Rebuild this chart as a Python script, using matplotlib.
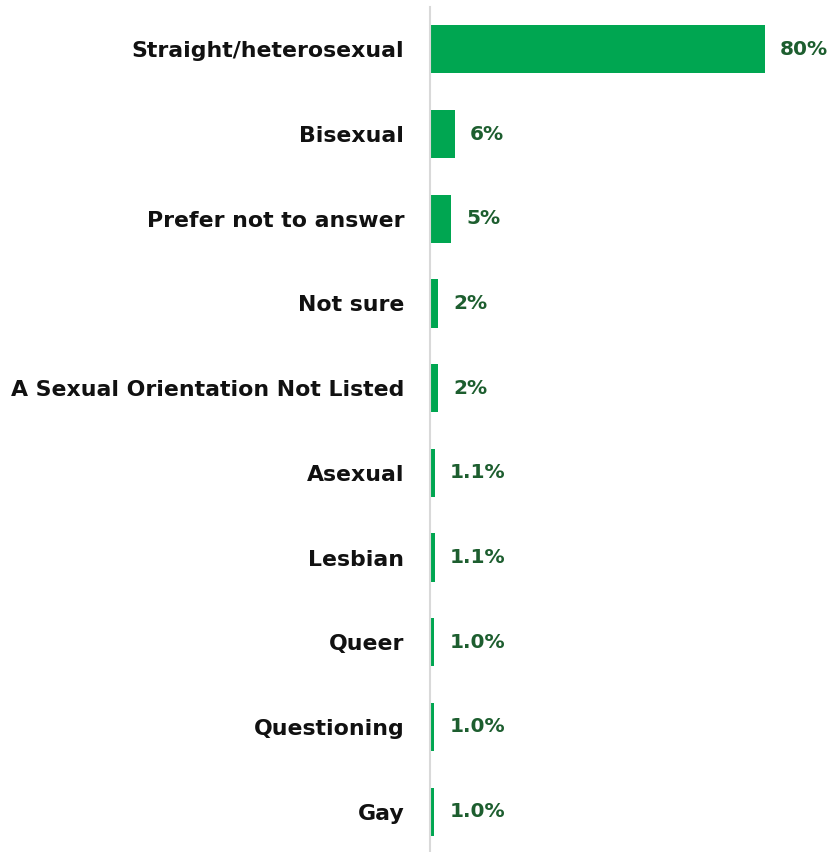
import matplotlib
matplotlib.use("Agg")
import matplotlib.pyplot as plt

categories = [
    "Straight/heterosexual",
    "Bisexual",
    "Prefer not to answer",
    "Not sure",
    "A Sexual Orientation Not Listed",
    "Asexual",
    "Lesbian",
    "Queer",
    "Questioning",
    "Gay",
]
values = [80, 6, 5, 2, 2, 1.1, 1.1, 1.0, 1.0, 1.0]
value_labels = ["80%", "6%", "5%", "2%", "2%", "1.1%", "1.1%", "1.0%", "1.0%", "1.0%"]

BAR_COLOR = "#00A651"
LABEL_COLOR = "#1D5E2F"

W, H, DPI = 830, 852, 100
fig = plt.figure(figsize=(W / DPI, H / DPI), dpi=DPI)
ax_left, ax_top, ax_bottom = 430, 7, 854
x_max = 90
px_per_unit = (765 - ax_left) / 80
ax_w = x_max * px_per_unit
ax = fig.add_axes([ax_left / W, (H - ax_bottom) / H, ax_w / W, (ax_bottom - ax_top) / H])

y = list(range(len(categories)))
ax.barh(y, values, height=0.57, color=BAR_COLOR, edgecolor="none")
ax.set_xlim(0, x_max)
ax.set_ylim(len(categories) - 0.5, -0.5)

for yi, v, lab in zip(y, values, value_labels):
    ax.annotate(lab, xy=(v, yi), xytext=(15, 0), textcoords="offset pixels",
                ha="left", va="center", fontsize=14.5, fontweight="bold",
                color=LABEL_COLOR, family="DejaVu Sans", annotation_clip=False)

ax.set_yticks(y)
ax.set_yticklabels(categories, fontsize=15.8, fontweight="bold", color="#111111")
ax.tick_params(axis="y", length=0, pad=18.5)
ax.set_xticks([])
for side in ["top", "right", "bottom"]:
    ax.spines[side].set_visible(False)
ax.spines["left"].set_color("#D9D9D9")
ax.spines["left"].set_linewidth(1.5)

fig.savefig("out.png", dpi=DPI, facecolor="white")
